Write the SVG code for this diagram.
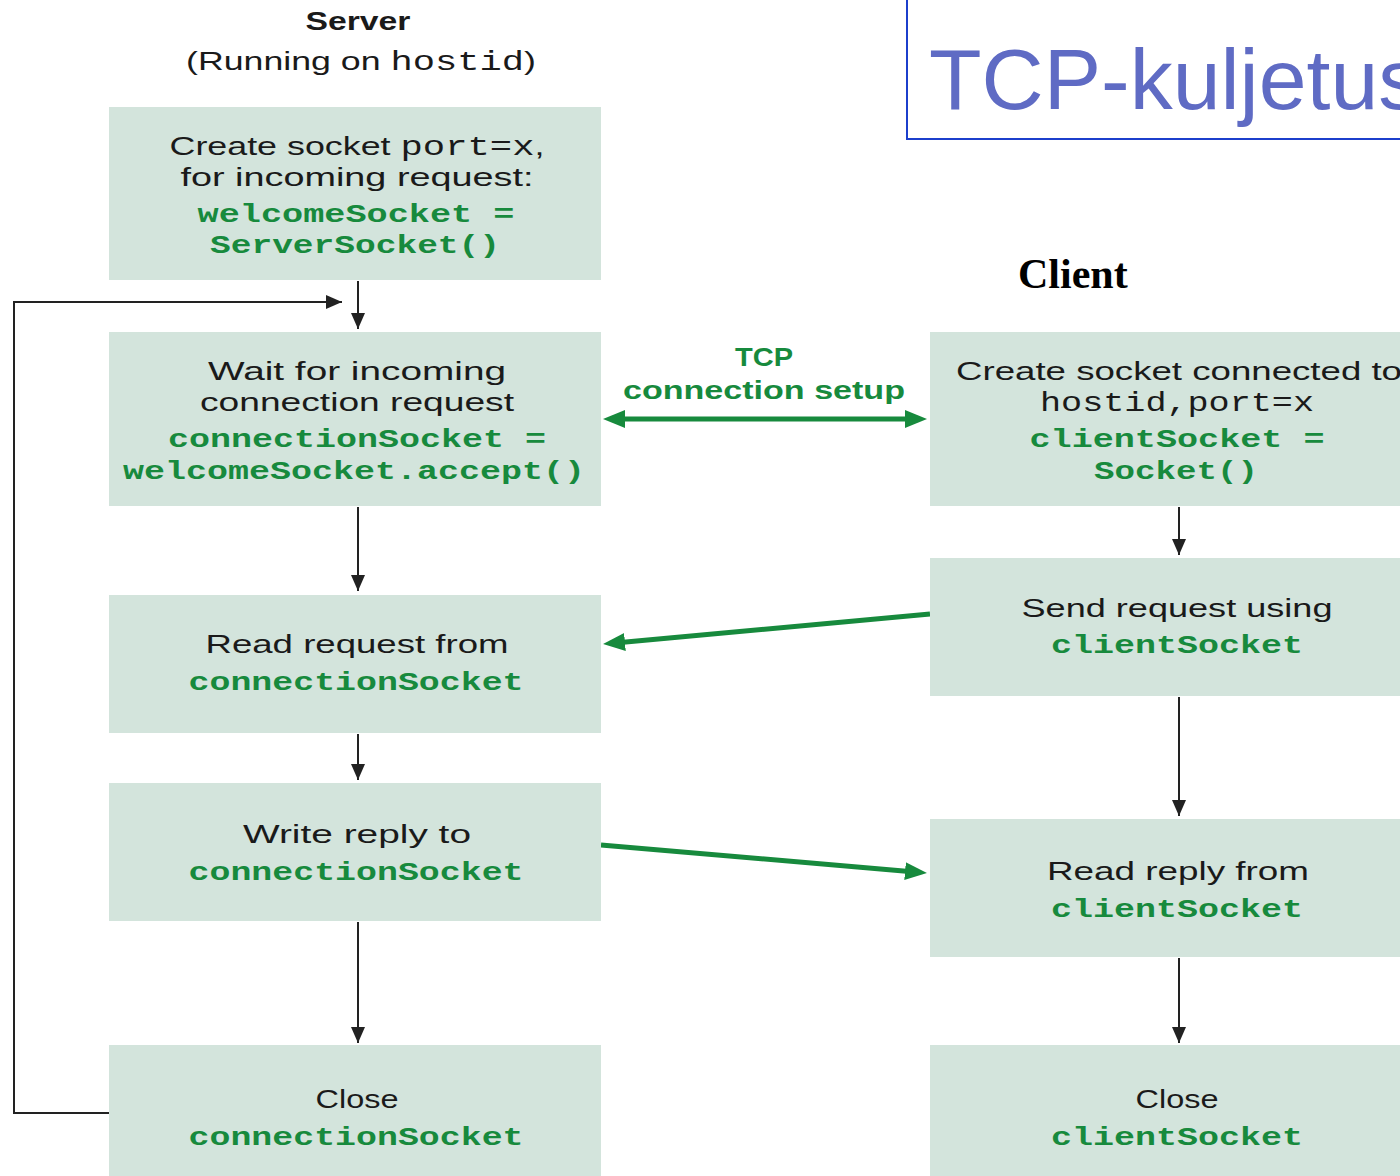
<svg xmlns="http://www.w3.org/2000/svg" width="1400" height="1176" viewBox="0 0 1400 1176">
<style>
.box{fill:#d3e4dc}
.s{font-family:"Liberation Sans",Arial,sans-serif;font-size:26px;fill:#1a1a1a}
.m{font-family:"Liberation Mono","Courier New",monospace;font-size:27px;fill:#1a1a1a}
.g{font-family:"Liberation Mono","Courier New",monospace;font-size:26px;font-weight:bold;fill:#178a3d}
.gs{font-family:"Liberation Sans",Arial,sans-serif;font-size:26px;font-weight:bold;fill:#178a3d}
.blk{stroke:#222;stroke-width:2;fill:none}
.grn{stroke:#178a3d;stroke-width:5;fill:none}
</style>
<defs>
<marker id="ab" viewBox="0 0 16 14" refX="16" refY="7" markerWidth="16" markerHeight="14" markerUnits="userSpaceOnUse" orient="auto"><path d="M0,0 L16,7 L0,14 Z" fill="#222"/></marker>
<marker id="ag" viewBox="0 0 22 18" refX="10" refY="9" markerWidth="22" markerHeight="18" markerUnits="userSpaceOnUse" orient="auto"><path d="M0,0 L22,9 L0,18 Z" fill="#178a3d"/></marker>
<marker id="ags" viewBox="0 0 22 18" refX="12" refY="9" markerWidth="22" markerHeight="18" markerUnits="userSpaceOnUse" orient="auto"><path d="M22,0 L0,9 L22,18 Z" fill="#178a3d"/></marker>
</defs>
<rect width="1400" height="1176" fill="#fff"/>

<g id="title">
<rect x="907" y="-10" width="520" height="149" fill="none" stroke="#1c3fcc" stroke-width="2"/>
<text x="929" y="109" font-family="Liberation Sans,Arial,sans-serif" font-size="86" fill="#5f6bc4">TCP-kuljetus</text>
</g>

<g id="server-label">
<text class="s" x="358" y="30" text-anchor="middle" font-weight="bold" textLength="105" lengthAdjust="spacingAndGlyphs">Server</text>
<text class="s" x="361" y="70" text-anchor="middle" textLength="350" lengthAdjust="spacingAndGlyphs">(Running on <tspan class="m">hostid</tspan>)</text>
</g>

<g id="client-label">
<text x="1018" y="288" font-family="Liberation Serif,'Times New Roman',serif" font-size="42" font-weight="bold" fill="#000">Client</text>
</g>

<g id="connectors">
<line class="blk" x1="358" y1="281" x2="358" y2="329" marker-end="url(#ab)"/>
<line class="blk" x1="358" y1="507" x2="358" y2="591" marker-end="url(#ab)"/>
<line class="blk" x1="358" y1="734" x2="358" y2="780" marker-end="url(#ab)"/>
<line class="blk" x1="358" y1="922" x2="358" y2="1043" marker-end="url(#ab)"/>
<polyline class="blk" points="109,1113 14,1113 14,302 342,302" marker-end="url(#ab)"/>
<line class="blk" x1="1179" y1="507" x2="1179" y2="555" marker-end="url(#ab)"/>
<line class="blk" x1="1179" y1="697" x2="1179" y2="816" marker-end="url(#ab)"/>
<line class="blk" x1="1179" y1="958" x2="1179" y2="1043" marker-end="url(#ab)"/>
<line class="grn" x1="615" y1="419" x2="915" y2="419" marker-start="url(#ags)" marker-end="url(#ag)"/>
<line class="grn" x1="930" y1="614" x2="615" y2="643" marker-end="url(#ag)"/>
<line class="grn" x1="601" y1="845" x2="915" y2="872" marker-end="url(#ag)"/>
<text class="gs" x="764" y="366" text-anchor="middle" textLength="58" lengthAdjust="spacingAndGlyphs">TCP</text>
<text class="gs" x="764" y="399" text-anchor="middle" textLength="282" lengthAdjust="spacingAndGlyphs">connection setup</text>
</g>

<g id="s-create">
<rect class="box" x="109" y="107" width="492" height="173"/>
<text class="s" x="357" y="155" text-anchor="middle" textLength="375" lengthAdjust="spacingAndGlyphs">Create  socket <tspan class="m">port=x</tspan>,</text>
<text class="s" x="357" y="186" text-anchor="middle" textLength="353" lengthAdjust="spacingAndGlyphs">for incoming request:</text>
<text class="g" x="356" y="222" text-anchor="middle" textLength="317" lengthAdjust="spacingAndGlyphs">welcomeSocket  =</text>
<text class="g" x="355" y="253" text-anchor="middle" textLength="290" lengthAdjust="spacingAndGlyphs">ServerSocket()</text>
</g>

<g id="s-wait">
<rect class="box" x="109" y="332" width="492" height="174"/>
<text class="s" x="357" y="380" text-anchor="middle" textLength="298" lengthAdjust="spacingAndGlyphs">Wait for incoming</text>
<text class="s" x="357" y="411" text-anchor="middle" textLength="314" lengthAdjust="spacingAndGlyphs">connection request</text>
<text class="g" x="357" y="447" text-anchor="middle" textLength="378" lengthAdjust="spacingAndGlyphs">connectionSocket  =</text>
<text class="g" x="354" y="479" text-anchor="middle" textLength="462" lengthAdjust="spacingAndGlyphs">welcomeSocket.accept()</text>
</g>

<g id="s-read">
<rect class="box" x="109" y="595" width="492" height="138"/>
<text class="s" x="357" y="653" text-anchor="middle" textLength="303" lengthAdjust="spacingAndGlyphs">Read request from</text>
<text class="g" x="356" y="690" text-anchor="middle" textLength="335" lengthAdjust="spacingAndGlyphs">connectionSocket</text>
</g>

<g id="s-write">
<rect class="box" x="109" y="783" width="492" height="138"/>
<text class="s" x="357" y="843" text-anchor="middle" textLength="228" lengthAdjust="spacingAndGlyphs">Write reply to</text>
<text class="g" x="356" y="880" text-anchor="middle" textLength="335" lengthAdjust="spacingAndGlyphs">connectionSocket</text>
</g>

<g id="s-close">
<rect class="box" x="109" y="1045" width="492" height="140"/>
<text class="s" x="357" y="1108" text-anchor="middle" textLength="83" lengthAdjust="spacingAndGlyphs">Close</text>
<text class="g" x="356" y="1145" text-anchor="middle" textLength="335" lengthAdjust="spacingAndGlyphs">connectionSocket</text>
</g>

<g id="c-create">
<rect class="box" x="930" y="332" width="490" height="174"/>
<text class="s" x="956" y="380" textLength="446" lengthAdjust="spacingAndGlyphs">Create socket connected to</text>
<text class="m" x="1177" y="411" text-anchor="middle" textLength="274" lengthAdjust="spacingAndGlyphs">hostid,port=x</text>
<text class="g" x="1177" y="447" text-anchor="middle" textLength="295" lengthAdjust="spacingAndGlyphs">clientSocket  =</text>
<text class="g" x="1176" y="479" text-anchor="middle" textLength="164" lengthAdjust="spacingAndGlyphs">Socket()</text>
</g>

<g id="c-send">
<rect class="box" x="930" y="558" width="490" height="138"/>
<text class="s" x="1177" y="617" text-anchor="middle" textLength="311" lengthAdjust="spacingAndGlyphs">Send request using</text>
<text class="g" x="1177" y="653" text-anchor="middle" textLength="252" lengthAdjust="spacingAndGlyphs">clientSocket</text>
</g>

<g id="c-read">
<rect class="box" x="930" y="819" width="490" height="138"/>
<text class="s" x="1178" y="880" text-anchor="middle" textLength="262" lengthAdjust="spacingAndGlyphs">Read reply from</text>
<text class="g" x="1177" y="917" text-anchor="middle" textLength="252" lengthAdjust="spacingAndGlyphs">clientSocket</text>
</g>

<g id="c-close">
<rect class="box" x="930" y="1045" width="490" height="140"/>
<text class="s" x="1177" y="1108" text-anchor="middle" textLength="83" lengthAdjust="spacingAndGlyphs">Close</text>
<text class="g" x="1177" y="1145" text-anchor="middle" textLength="252" lengthAdjust="spacingAndGlyphs">clientSocket</text>
</g>
</svg>
